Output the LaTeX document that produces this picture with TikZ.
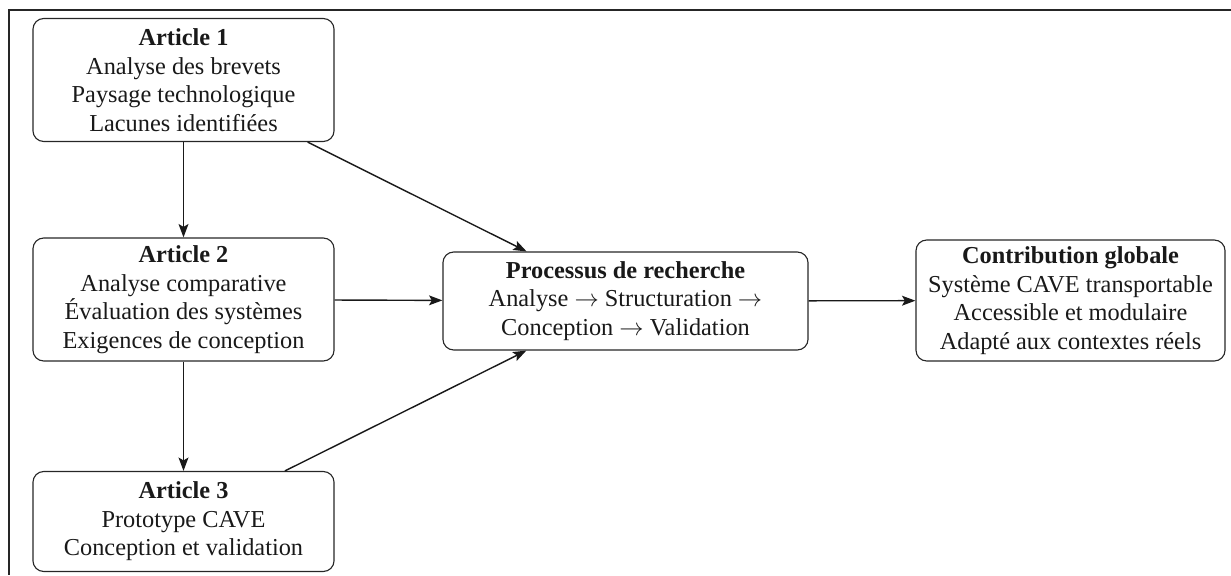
\documentclass[tikz,border=0pt]{standalone}
\usepackage{fontspec}
\setmainfont{Liberation Serif}
\usetikzlibrary{arrows.meta}
\begin{document}
\begin{tikzpicture}[x=0.025cm,y=-0.025cm,
  box/.style={draw=black!85, rounded corners=0.27cm, line width=0.8pt, align=center,
    font=\fontsize{17.3}{20.3}\selectfont, inner sep=0pt, text=black!90},
  art/.style={box, minimum width=7.525cm, minimum height=3.075cm},
  conn/.style={-{Stealth[length=9.5pt,width=7pt,inset=2pt]}, line width=1pt, draw=black!90}]
\useasboundingbox (0,0) rectangle (1231,575);
\draw[line width=0.8pt, black!85] (1231,10) -- (9,10) -- (9,575);

\node[art] (a1) at (183.5,80) {\textbf{Article 1}\\Analyse des brevets\\Paysage technologique\\Lacunes identifiées};
\node[art] (a2) at (183.5,299.5) {\textbf{Article 2}\\Analyse comparative\\Évaluation des systèmes\\Exigences de conception};
\node[art, minimum height=2.5cm] (a3) at (183.5,521.5) {\textbf{Article 3}\\Prototype CAVE\\Conception et validation};
\node[box, minimum width=9.125cm, minimum height=2.45cm] (p) at (625.5,301) {\textbf{Processus de recherche}\\Analyse $\rightarrow$ Structuration $\rightarrow$\\Conception $\rightarrow$ Validation};
\node[box, minimum width=7.725cm, minimum height=3.025cm] (c) at (1070.5,300.5) {\textbf{Contribution globale}\\Système CAVE transportable\\Accessible et modulaire\\Adapté aux contextes réels};

\draw[conn] (a1) -- (a2);
\draw[conn] (a2) -- (a3);
\draw[conn] (a1) -- (p);
\draw[conn] (a2) -- (p);
\draw[conn] (a3) -- (p);
\draw[conn] (p) -- (c);
\end{tikzpicture}
\end{document}
